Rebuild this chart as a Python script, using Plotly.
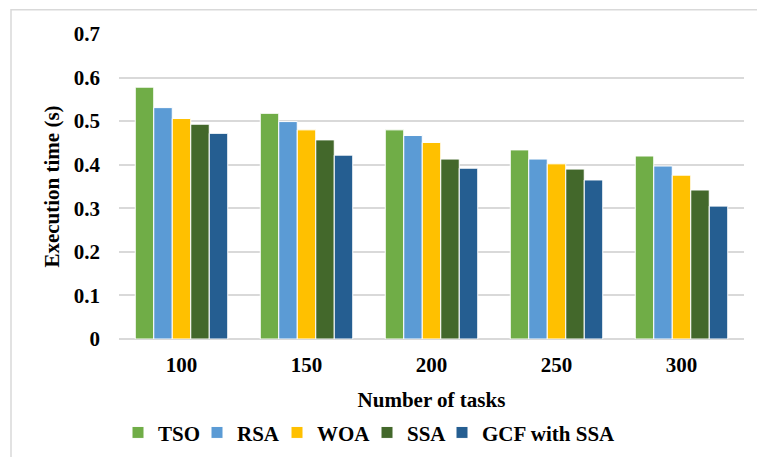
import plotly.graph_objects as go

categories = ["100", "150", "200", "250", "300"]
tso = [0.578, 0.518, 0.480, 0.434, 0.420]
rsa = [0.531, 0.499, 0.467, 0.413, 0.397]
woa = [0.506, 0.480, 0.451, 0.402, 0.376]
ssa = [0.493, 0.457, 0.413, 0.390, 0.342]
gcf = [0.472, 0.422, 0.392, 0.365, 0.305]
series_names = ["TSO", "RSA", "WOA", "SSA", "GCF with SSA"]
series_values = [tso, rsa, woa, ssa, gcf]
colors = ["#70AD47", "#5B9BD5", "#FFC000", "#43682B", "#255E91"]
y_ticks = [0, 0.1, 0.2, 0.3, 0.4, 0.5, 0.6, 0.7]
y_ticklabels = ["0", "0.1", "0.2", "0.3", "0.4", "0.5", "0.6", "0.7"]

FONT = "Liberation Serif"
legend_ids = ["legend", "legend2", "legend3", "legend4", "legend5"]
legend_x = [-0.0016, 0.1248, 0.2528, 0.3968, 0.5168]

fig = go.Figure()
for name, vals, col, lid in zip(series_names, series_values, colors, legend_ids):
    fig.add_trace(go.Bar(
        x=categories, y=vals, name=name, legend=lid,
        marker=dict(color=col, line=dict(color="white", width=1)),
    ))

legend_style = dict(
    orientation="h", xanchor="left",
    yref="container", y=0.053, yanchor="middle",
    font=dict(family=FONT, size=21, color="black", weight="bold"),
    itemwidth=30, bgcolor="rgba(0,0,0,0)",
)
legends = {lid: dict(x=lx, **legend_style) for lid, lx in zip(legend_ids, legend_x)}

fig.update_layout(
    width=757, height=457,
    margin=dict(l=119, r=13, t=34, b=118, autoexpand=False),
    paper_bgcolor="white", plot_bgcolor="white",
    barmode="group", bargap=0.26, bargroupgap=0.0,
    font=dict(family=FONT, size=21, color="black", weight="bold"),
    showlegend=True,
    xaxis=dict(
        type="category", showgrid=False, zeroline=False, showline=False,
        ticks="", ticklabelstandoff=11, automargin=False,
        title=dict(text="Number of tasks", standoff=18,
                   font=dict(family=FONT, size=21, color="black", weight="bold")),
    ),
    yaxis=dict(
        range=[0, 0.7], tickvals=y_ticks, ticktext=y_ticklabels,
        showgrid=True, gridcolor="#D9D9D9", gridwidth=1.5,
        zeroline=True, zerolinecolor="#D9D9D9", zerolinewidth=1.5,
        showline=False, ticks="", ticklabelstandoff=18, automargin=False,
        title=dict(text="Execution time (s)", standoff=8,
                   font=dict(family=FONT, size=21, color="black", weight="bold")),
    ),
    shapes=[dict(
        type="rect", xref="paper", yref="paper",
        x0=-0.1728, x1=1.5, y0=-1.0, y1=1.0795,
        line=dict(color="#D9D9D9", width=1.5), fillcolor="rgba(0,0,0,0)",
        layer="below",
    )],
    **legends,
)

fig.write_html(
    "out.html",
    config={"displayModeBar": False},
    post_script="document.body.style.margin='0';document.body.style.overflow='hidden';",
)
